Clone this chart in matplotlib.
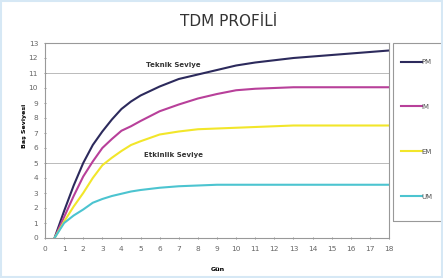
import numpy as np
import matplotlib
matplotlib.use("Agg")
import matplotlib.pyplot as plt

# days
gun = [0.5, 1, 1.5, 2, 2.5, 3, 3.5, 4, 4.5, 5, 6, 7, 8, 9, 10, 11, 12, 13, 14, 15, 16, 17, 18]
pm = [0, 1.8, 3.5, 5.0, 6.2, 7.1, 7.9, 8.6, 9.1, 9.5, 10.1, 10.6, 10.9, 11.2, 11.5, 11.7, 11.85, 12.0, 12.1, 12.2, 12.3, 12.4, 12.5]
im = [0, 1.4, 2.8, 4.1, 5.1, 6.0, 6.6, 7.15, 7.45, 7.8, 8.45, 8.9, 9.3, 9.6, 9.85, 9.95, 10.0, 10.05, 10.05, 10.05, 10.05, 10.05, 10.05]
em = [0, 1.1, 2.1, 3.0, 4.0, 4.85, 5.35, 5.8, 6.2, 6.45, 6.9, 7.1, 7.25, 7.3, 7.35, 7.4, 7.45, 7.5, 7.5, 7.5, 7.5, 7.5, 7.5]
um = [0, 1.0, 1.5, 1.9, 2.35, 2.6, 2.8, 2.95, 3.1, 3.2, 3.35, 3.45, 3.5, 3.55, 3.55, 3.55, 3.55, 3.55, 3.55, 3.55, 3.55, 3.55, 3.55]
seriler = ['PM', 'IM', 'EM', 'UM']
renkler = ['#2c2a5c', '#b8409a', '#f2e62a', '#4cc4d0']
seviyeler = [11, 5]
seviye_adlari = ['Teknik Seviye', 'Etkinlik Seviye']

fig = plt.figure(figsize=(4.43, 2.78), dpi=100)
fig.patch.set_facecolor('white')
ax = fig.add_axes([45/443, 1 - 238/278, 344/443, 195/278])

lines = []
for y, c, lab in zip([pm, im, em, um], renkler, seriler):
    l, = ax.plot(gun, y, color=c, lw=1.5, label=lab, solid_joinstyle='round')
    lines.append(l)

for s, ad in zip(seviyeler, seviye_adlari):
    ax.axhline(s, color='#b0b0b0', lw=0.6, zorder=0)
    ax.text(6.7, s + 0.5, ad, fontsize=5, fontweight='bold', ha='center', va='center', color='#333333')

ax.set_xlim(0, 18)
ax.set_ylim(0, 13)
ax.set_xticks(range(0, 19))
ax.set_yticks(range(0, 14))
ax.tick_params(labelsize=5.3, colors='#666666', length=2, width=0.5, direction='inout')
ax.tick_params(axis='x', pad=5)
ax.tick_params(axis='y', pad=4)
for sp in ax.spines.values():
    sp.set_color('#999999')
    sp.set_linewidth(0.8)
ax.set_xlabel('Gün', fontsize=4.5, fontweight='bold')
ax.set_ylabel('Baş Seviyesi', fontsize=4.5, fontweight='bold')
ax.xaxis.set_label_coords(0.503, -0.149)
ax.yaxis.set_label_coords(-0.052, 0.574)

fig.text(0.517, 0.923, 'TDM PROFİLİ', fontsize=11, ha='center', va='center', color='#333333')

# legend box
fig.patches.append(plt.Rectangle((393/443, 1 - 221/278), 60/443, 178/278, transform=fig.transFigure,
                                 fill=False, edgecolor='#999999', lw=0.8))
leg = ax.legend(handles=lines, loc='upper left', bbox_to_anchor=(401/443, 1 - 59/278),
                bbox_transform=fig.transFigure, fontsize=5, labelspacing=5.6,
                handlelength=3, handletextpad=0.0, borderpad=0, frameon=False,
                borderaxespad=0)
for t in leg.get_texts():
    t.set_color('#555555')

# faint frame around picture
fig.patches.append(plt.Rectangle((0.002, 0.003), 0.996, 0.994, transform=fig.transFigure,
                                 fill=False, edgecolor='#d6e8f5', lw=1.5))

fig.savefig('out.png', dpi=100)
